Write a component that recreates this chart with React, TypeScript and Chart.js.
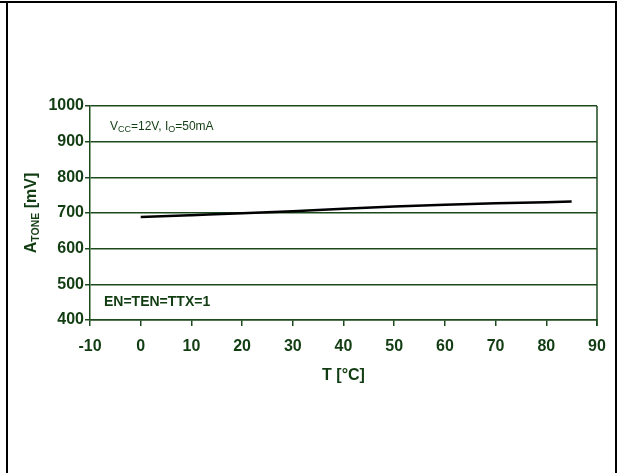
import React, { useEffect, useRef } from "react";
import { Chart, registerables } from "chart.js";

Chart.register(...registerables);

const temperatures = [0, 10, 20, 30, 40, 50, 60, 70, 80, 85];
const atoneValues = [689, 694, 699, 705, 712, 718, 723, 727, 730, 732];
const xTickRange = { min: -10, max: 90, step: 10 };
const yTickRange = { min: 400, max: 1000, step: 100 };
const yTitleMain = "A";
const yTitleSub = "TONE";
const yTitleUnit = " [mV]";
const xTitle = "T [°C]";
const noteVcc = [
  { t: "V", sub: false },
  { t: "CC", sub: true },
  { t: "=12V, I", sub: false },
  { t: "O", sub: true },
  { t: "=50mA", sub: false },
];
const noteEn = "EN=TEN=TTX=1";

const GREEN = "#1d4a1d";
const TEXT = "#123d12";
const FONT = "'Liberation Sans', Arial, sans-serif";

const decorPlugin = {
  id: "decor",
  afterDraw(chart: any) {
    const ctx = chart.ctx;
    const ca = chart.chartArea;
    ctx.save();
    // plot right border
    ctx.strokeStyle = GREEN;
    ctx.lineWidth = 1.5;
    ctx.beginPath();
    ctx.moveTo(ca.right, ca.top);
    ctx.lineTo(ca.right, ca.bottom + 6);
    ctx.stroke();

    // outer frame
    ctx.strokeStyle = "#000";
    ctx.lineWidth = 2;
    ctx.beginPath();
    ctx.moveTo(0, 2);
    ctx.lineTo(617, 2);
    ctx.stroke();
    ctx.beginPath();
    ctx.moveTo(7, 1);
    ctx.lineTo(7, 473);
    ctx.stroke();
    ctx.beginPath();
    ctx.moveTo(616, 1);
    ctx.lineTo(616, 473);
    ctx.stroke();

    // Y title (rotated, with subscript)
    ctx.fillStyle = TEXT;
    ctx.textBaseline = "alphabetic";
    ctx.textAlign = "left";
    const fMain = `bold 16px ${FONT}`;
    const fSub = `bold 10.5px ${FONT}`;
    ctx.font = fMain;
    const wA = ctx.measureText(yTitleMain).width;
    const wU = ctx.measureText(yTitleUnit).width;
    ctx.font = fSub;
    const wS = ctx.measureText(yTitleSub).width;
    const total = wA + wS + wU;
    const cy = (ca.top + ca.bottom) / 2;
    ctx.translate(35.5, cy);
    ctx.rotate(-Math.PI / 2);
    let x = -total / 2;
    ctx.font = fMain;
    ctx.fillText(yTitleMain, x, 0);
    x += wA;
    ctx.font = fSub;
    ctx.fillText(yTitleSub, x, 3);
    x += wS;
    ctx.font = fMain;
    ctx.fillText(yTitleUnit, x, 0);
    ctx.setTransform(1, 0, 0, 1, 0, 0);

    // X title
    ctx.font = `bold 16px ${FONT}`;
    ctx.textAlign = "center";
    ctx.textBaseline = "middle";
    ctx.fillText(xTitle, (ca.left + ca.right) / 2, 376);

    // Vcc note
    ctx.textAlign = "left";
    ctx.textBaseline = "alphabetic";
    let nx = 110;
    for (const part of noteVcc) {
      ctx.font = part.sub ? `9px ${FONT}` : `12px ${FONT}`;
      ctx.fillText(part.t, nx, part.sub ? 131.5 : 129.5);
      nx += ctx.measureText(part.t).width;
    }

    // EN note
    ctx.font = `bold 14px ${FONT}`;
    ctx.fillText(noteEn, 104, 306);
    ctx.restore();
  },
};

export default function App() {
  const canvasRef = useRef<HTMLCanvasElement | null>(null);

  useEffect(() => {
    const canvas = canvasRef.current;
    if (!canvas) return;
    const chart = new Chart(canvas, {
      type: "line",
      data: {
        datasets: [
          {
            data: temperatures.map((t, i) => ({ x: t, y: atoneValues[i] })),
            borderColor: "#000",
            borderWidth: 2.5,
            pointRadius: 0,
            cubicInterpolationMode: "monotone",
            fill: false,
          },
        ],
      },
      options: {
        responsive: false,
        animation: false,
        events: [],
        layout: { padding: { top: 106, left: 0, right: 25, bottom: 0 } },
        plugins: {
          legend: { display: false },
          tooltip: { enabled: false },
          title: { display: false },
        },
        scales: {
          x: {
            type: "linear",
            min: xTickRange.min,
            max: xTickRange.max,
            afterFit: (s: any) => {
              s.height = 153;
            },
            ticks: {
              stepSize: xTickRange.step,
              color: TEXT,
              font: { family: FONT, size: 16, weight: "bold" },
              padding: 11,
              maxRotation: 0,
              callback: (v: any) => String(v),
            },
            grid: {
              drawOnChartArea: false,
              drawTicks: true,
              tickLength: 6,
              color: GREEN,
              lineWidth: 1.5,
            },
            border: { color: GREEN, width: 1.5 },
          },
          y: {
            type: "linear",
            min: yTickRange.min,
            max: yTickRange.max,
            afterFit: (s: any) => {
              s.width = 90;
            },
            ticks: {
              stepSize: yTickRange.step,
              color: TEXT,
              font: { family: FONT, size: 16, weight: "bold" },
              padding: 1,
              callback: (v: any) => String(v),
            },
            grid: {
              color: GREEN,
              lineWidth: 1.5,
              drawTicks: true,
              tickLength: 5,
            },
            border: { color: GREEN, width: 1.5 },
          },
        },
      },
      plugins: [decorPlugin],
    });
    return () => chart.destroy();
  }, []);

  return (
    <div
      style={{
        position: "fixed",
        left: 0,
        top: 0,
        width: 622,
        height: 473,
        background: "#fff",
      }}
    >
      <canvas ref={canvasRef} width={622} height={473} style={{ display: "block" }} />
    </div>
  );
}
